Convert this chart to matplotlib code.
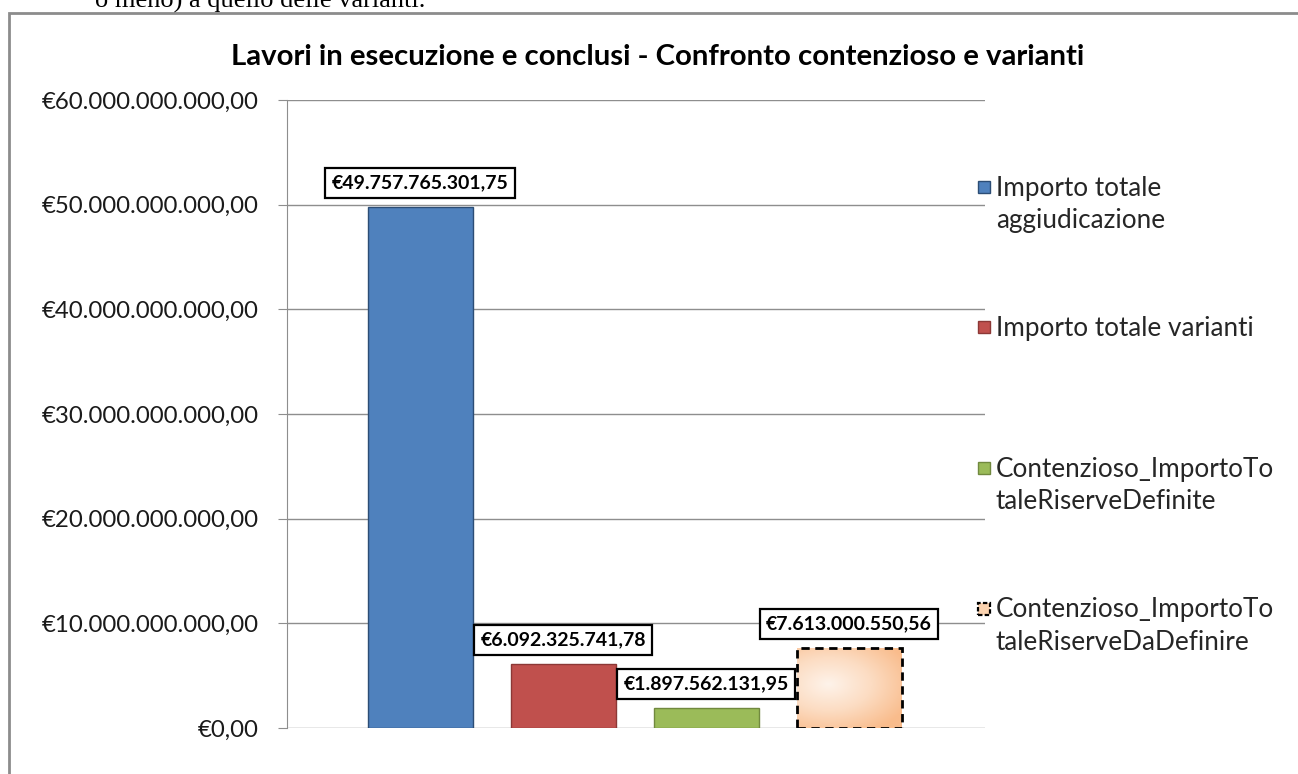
import matplotlib.pyplot as plt
from matplotlib.patches import Rectangle
from matplotlib.ticker import FuncFormatter, MultipleLocator
from matplotlib.colors import LinearSegmentedColormap
import numpy as np

plt.rcParams['font.family'] = ['Lato', 'DejaVu Sans']

title = 'Lavori in esecuzione e conclusi - Confronto contenzioso e varianti'
series = ['Importo totale\naggiudicazione', 'Importo totale varianti',
          'Contenzioso_ImportoTo\ntaleRiserveDefinite',
          'Contenzioso_ImportoTo\ntaleRiserveDaDefinire']
values = [49757765301.75, 6092325741.78, 1897562131.95, 7613000550.56]
colors = ['#4F81BD', '#C0504D', '#9BBB59', '#FAC090']
edges = ['#2C4D75', '#8C3836', '#71893F', 'black']


def euro(v, pos=None):
    s = f'{v:,.2f}'
    s = s.replace(',', 'X').replace('.', ',').replace('X', '.')
    return '\u20ac' + s


W, H = 1298, 774
fig = plt.figure(figsize=(W / 100, H / 100), dpi=100)

# testo del documento tagliato sopra il grafico
fig.text(95 / W, 1 - 8 / H, 'o meno) a quello delle varianti.', family='Liberation Serif',
         fontsize=19, va='baseline', ha='left', color='black')

# bordo del grafico
fig.patches.append(Rectangle((9 / W, -0.5), 2, 1.5 - 13 / H, transform=fig.transFigure,
                             fill=False, edgecolor='#8C8C8C', lw=2))

fig.text(658 / W, 1 - 57 / H, title, fontsize=21.2, fontweight='bold', ha='center', va='center')

ax = fig.add_axes([287 / W, 46 / H, 698 / W, 628 / H])
x = np.arange(len(values))
bars = ax.bar(x, values, width=0.734, color=colors, edgecolor=edges, linewidth=1)
ax.set_xlim(-0.93, 3.95)
ax.set_ylim(0, 60e9)

# ultima barra: bordo tratteggiato e riempimento sfumato
last = bars[-1]
last.set_linestyle((0, (3, 2)))
last.set_linewidth(2)
bb = last.get_bbox()
gx, gy = np.meshgrid(np.linspace(0, 1, 200), np.linspace(0, 1, 200))
dist = np.sqrt(((gx - 0.3) / 1.1) ** 2 + ((gy - 0.55) / 0.9) ** 2)
cmap = LinearSegmentedColormap.from_list('pesca', ['#FEF3EA', '#FCDCC2', '#F9BC8C'])
img = ax.imshow(dist, extent=(bb.x0, bb.x1, bb.y0, bb.y1), origin='lower', cmap=cmap,
                vmin=0, vmax=0.75, aspect='auto', zorder=last.get_zorder() - 0.1)
img.set_clip_path(last)
last.set_facecolor('none')
ax.set_xlim(-0.93, 3.95)
ax.set_ylim(0, 60e9)

ax.yaxis.set_major_locator(MultipleLocator(10e9))
ax.yaxis.set_major_formatter(FuncFormatter(euro))
ax.grid(axis='y', color='#8E8E8E', linewidth=1)
ax.set_axisbelow(True)
ax.set_xticks([])
for s in ['top', 'right', 'bottom']:
    ax.spines[s].set_visible(False)
ax.spines['left'].set_color('#8E8E8E')
ax.tick_params(axis='y', length=6.5, color='#8E8E8E', labelsize=17.3, pad=14,
               labelcolor='#1A1A1A')

for xi, v in zip(x, values):
    ax.annotate(euro(v), xy=(xi, v), xytext=(0, 17.5), textcoords='offset points',
                ha='center', va='center', fontsize=14, fontweight='bold',
                bbox=dict(boxstyle='square,pad=0.32', fc='white', ec='black', lw=1.6),
                zorder=5)

# legenda
for i, (lab, c, e) in enumerate(zip(series, colors, edges)):
    ytop = 1 - (187 + 140.5 * i) / H
    sq = Rectangle((978 / W, ytop - 6 / H), 12 / W, 12 / H, transform=fig.transFigure,
                   facecolor=c if i < 3 else '#FBD3B0', edgecolor=e, lw=1 if i < 3 else 1.6,
                   linestyle='-' if i < 3 else (0, (2, 1)))
    fig.patches.append(sq)
    fig.text(996 / W, ytop + 11 / H, lab, fontsize=18.8, ha='left', va='top',
             linespacing=1.35, color='#262626')

fig.savefig('out.png', dpi=100)
